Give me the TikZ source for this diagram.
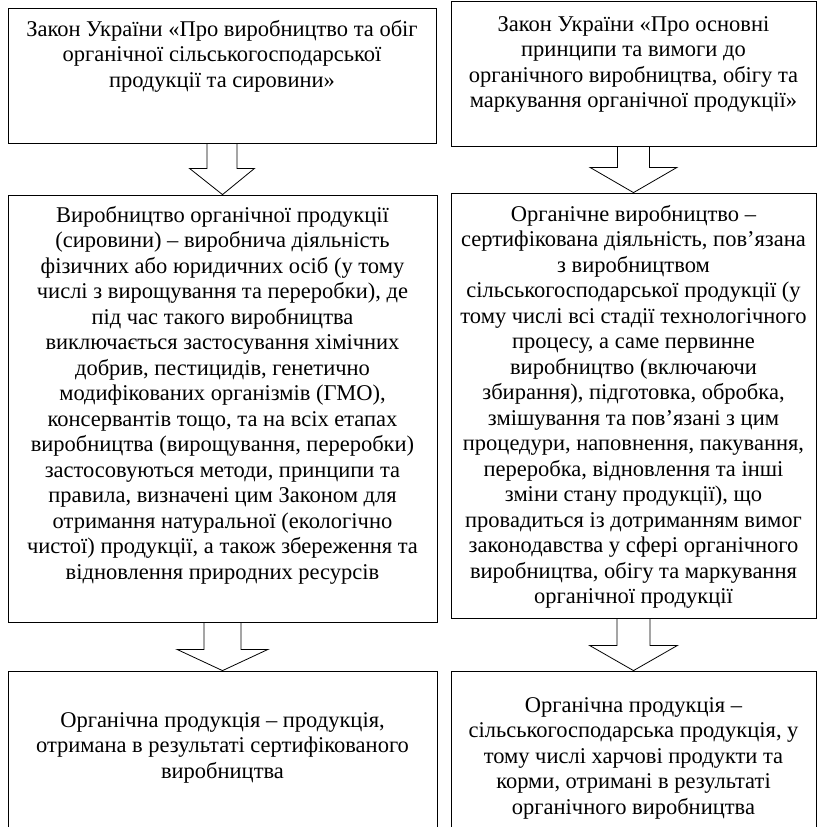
\documentclass[tikz,border=0pt]{standalone}
\usepackage{fontspec}
\setmainfont{Liberation Serif}
\usetikzlibrary{calc}
\tikzset{
  box/.style={draw, line width=0.8pt, rectangle, inner sep=0pt},
  txt/.style={align=center, inner sep=0pt, anchor=north, font=\fontsize{22.5}{25.5}\selectfont},
  arr/.style={draw, line width=0.8pt, line join=miter}
}
\newcommand\myarrow[5]{%
  \draw[arr] ($(#1.south)+(-#3,0)$) -- ($(#1.south)+(-#3,#5)$) -- ($(#1.south)+(-#4,#5)$)
    -- (#2.north) -- ($(#1.south)+(#4,#5)$) -- ($(#1.south)+(#3,#5)$) -- ($(#1.south)+(#3,0)$);}
\newcommand\fl{\rule{0pt}{18pt}}
\begin{document}
\begin{tikzpicture}[x=1pt,y=-1pt]
\useasboundingbox (0,0) rectangle (817,827);
\clip (0,0) rectangle (817,827);
% boxes
\node[box, minimum width=428pt, minimum height=135pt] (l1) at (222,75.5) {};
\node[box, minimum width=365pt, minimum height=145pt] (r1) at (633.5,73.5) {};
\node[box, minimum width=429pt, minimum height=427pt] (l2) at (222.5,408.5) {};
\node[box, minimum width=365pt, minimum height=425pt] (r2) at (633.5,405.5) {};
\node[box, minimum width=429pt, minimum height=179pt] (l3) at (222.5,760.5) {};
\node[box, minimum width=365pt, minimum height=179pt] (r3) at (633.5,760.5) {};
% texts
\node[txt] (tl1) at (222,18) {\fl Закон України «Про виробництво та обіг\\органічної сільськогосподарської\\продукції та сировини»};
\node[txt] (tr1) at (633.5,13) {\fl Закон України «Про основні\\принципи та вимоги до\\органічного виробництва, обігу та\\маркування органічної продукції»};
\node[txt] (tl2) at (222.5,204) {\fl Виробництво органічної продукції\\(сировини) – виробнича діяльність\\фізичних або юридичних осіб (у тому\\числі з вирощування та переробки), де\\під час такого виробництва\\виключається застосування хімічних\\добрив, пестицидів, генетично\\модифікованих організмів (ГМО),\\консервантів тощо, та на всіх етапах\\виробництва (вирощування, переробки)\\застосовуються методи, принципи та\\правила, визначені цим Законом для\\отримання натуральної (екологічно\\чистої) продукції, а також збереження та\\відновлення природних ресурсів};
\node[txt] (tr2) at (633.5,203) {\fl Органічне виробництво –\\сертифікована діяльність, пов’язана\\з виробництвом\\сільськогосподарської продукції (у\\тому числі всі стадії технологічного\\процесу, а саме первинне\\виробництво (включаючи\\збирання), підготовка, обробка,\\змішування та пов’язані з цим\\процедури, наповнення, пакування,\\переробка, відновлення та інші\\зміни стану продукції), що\\провадиться із дотриманням вимог\\законодавства у сфері органічного\\виробництва, обігу та маркування\\органічної продукції};
\node[txt] (tl3) at (222.5,709) {\fl Органічна продукція – продукція,\\отримана в результаті сертифікованого\\виробництва};
\node[txt] (tr3) at (633.5,694) {\fl Органічна продукція –\\сільськогосподарська продукція, у\\тому числі харчові продукти та\\корми, отримані в результаті\\органічного виробництва};
% block arrows
\myarrow{l1}{l2}{15}{32.5}{25}
\myarrow{r1}{r2}{16}{43.5}{21}
\myarrow{l2}{l3}{18.5}{45.5}{27}
\myarrow{r2}{r3}{16.5}{44}{27}
\end{tikzpicture}
\end{document}
